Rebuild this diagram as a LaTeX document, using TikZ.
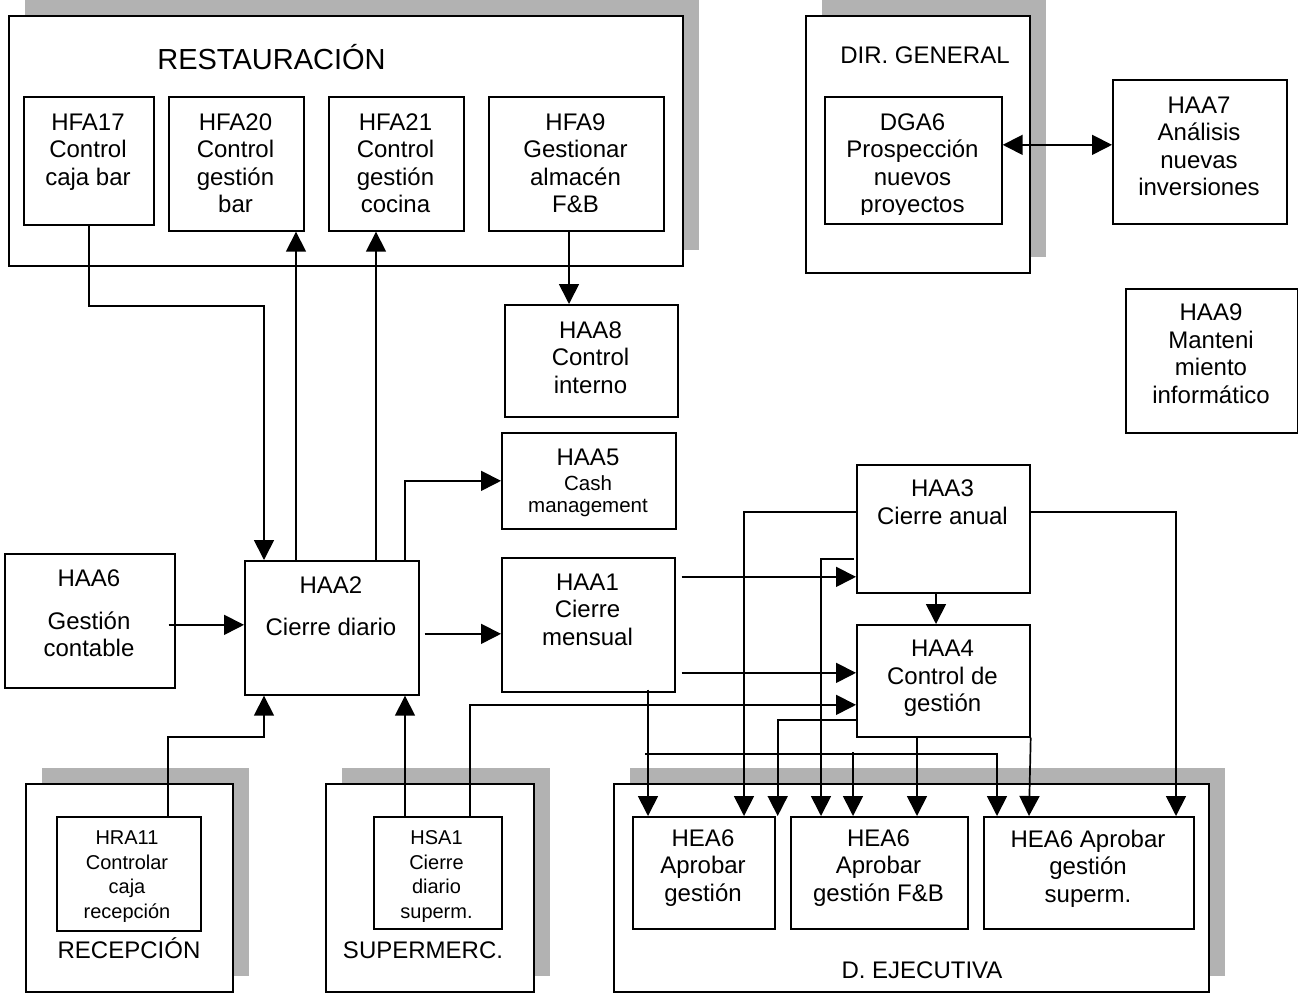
\documentclass[tikz,border=0pt]{standalone}
\usepackage{fontspec}
\setmainfont{Liberation Sans}
\usetikzlibrary{arrows.meta,calc,shadows}
\definecolor{shadowc}{RGB}{178,178,178}
\begin{document}
\begin{tikzpicture}[x=1pt,y=-1pt,
  box/.style={draw, line width=1.7pt, inner sep=0pt, anchor=north west, fill=white},
  group/.style={box, drop shadow={shadow xshift=16pt, shadow yshift=16pt, fill=shadowc, opacity=1}},
  txt/.style={inner sep=0pt, align=center, anchor=north, font=\fontsize{24}{27.5}\selectfont},
  smalltxt/.style={txt, font=\fontsize{20}{24.5}\selectfont},
  cashtxt/.style={txt, font=\fontsize{20.5}{22}\selectfont},
  grouptitle/.style={inner sep=0pt, anchor=base, font=\fontsize{24}{27.5}\selectfont},
  conn/.style={line width=1.7pt},
  arr/.style={conn, -{Triangle[length=20pt,width=20pt]}},
  dbl/.style={conn, {Triangle[length=20pt,width=20pt]}-{Triangle[length=20pt,width=20pt]}}
]
\useasboundingbox (0,0) rectangle (1298,996);
\fill[white] (0,0) rectangle (1298,996);

% ---- department frames with shadows ----
\node[group, minimum width=674pt, minimum height=250pt] (restG) at (8,15) {};
\node[group, minimum width=224pt, minimum height=257pt] (dirG) at (805,15) {};
\node[group, minimum width=207pt, minimum height=208pt] (recG) at (25,783) {};
\node[group, minimum width=208pt, minimum height=208pt] (supG) at (325,783) {};
\node[group, minimum width=595pt, minimum height=208pt] (ejeG) at (613,783) {};

\node[grouptitle, font=\fontsize{29}{32}\selectfont] (restT) at (271.5,69.5) {RESTAURACIÓN};
\node[grouptitle] (dirT) at (925,63.6) {DIR. GENERAL};
\node[grouptitle] (recT) at (129,958.6) {RECEPCIÓN};
\node[grouptitle] (supT) at (423,958.6) {SUPERMERC.};
\node[grouptitle] (ejeT) at (922,978) {D. EJECUTIVA};

% ---- process boxes ----
\node[box, minimum width=130pt, minimum height=128pt] (hfa17) at (23,96) {};
\node[box, minimum width=135pt, minimum height=134pt] (hfa20) at (168,96) {};
\node[box, minimum width=135pt, minimum height=134pt] (hfa21) at (328,96) {};
\node[box, minimum width=175pt, minimum height=134pt] (hfa9) at (488,96) {};
\node[box, minimum width=177pt, minimum height=127pt] (dga6) at (824,96) {};
\node[box, minimum width=174pt, minimum height=144pt] (haa7) at (1112,79) {};
\node[box, minimum width=172pt, minimum height=144pt] (haa9) at (1125,288) {};
\node[box, minimum width=173pt, minimum height=112pt] (haa8) at (504,304) {};
\node[box, minimum width=174pt, minimum height=96pt] (haa5) at (501,432) {};
\node[box, minimum width=170pt, minimum height=134pt] (haa6) at (4,553) {};
\node[box, minimum width=174pt, minimum height=134pt] (haa2) at (244,560) {};
\node[box, minimum width=173pt, minimum height=134pt] (haa1) at (501,557) {};
\node[box, minimum width=173pt, minimum height=128pt] (haa3) at (856,464) {};
\node[box, minimum width=173pt, minimum height=112pt] (haa4) at (856,624) {};
\node[box, minimum width=144pt, minimum height=114pt] (hra11) at (56,816) {};
\node[box, minimum width=128pt, minimum height=112pt] (hsa1) at (373,816) {};
\node[box, minimum width=142pt, minimum height=112pt] (hea6a) at (632,816) {};
\node[box, minimum width=177pt, minimum height=112pt] (hea6b) at (790,816) {};
\node[box, minimum width=210pt, minimum height=112pt] (hea6c) at (983,816) {};

% ---- box texts ----
\node[txt] (hfa17t) at (88,113.4) {HFA17\\Control\\caja bar};
\node[txt] (hfa20t) at (235.5,113.4) {HFA20\\Control\\gestión\\bar};
\node[txt] (hfa21t) at (395.5,113.4) {HFA21\\Control\\gestión\\cocina};
\node[txt] (hfa9t) at (575.5,113.4) {HFA9\\Gestionar\\almacén\\F\&B};
\begin{scope}
  \clip (dga6.north west) rectangle ($(dga6.south east)+(0,-10)$);
  \node[txt] (dga6t) at (912.5,113.4) {DGA6\\Prospección\\nuevos\\proyectos};
\end{scope}
\node[txt] (haa7t) at (1199,96.4) {HAA7\\Análisis\\nuevas\\inversiones};
\node[txt] (haa9t) at (1211,303.8) {HAA9\\Manteni\\miento\\informático};
\node[txt] (haa8t) at (590.5,321.4) {HAA8\\Control\\interno};
\node[txt] (haa5t) at (588,448.4) {HAA5};
\node[cashtxt] (haa5s) at (588,475.3) {Cash\\management};
\node[txt] (haa6t) at (89,569.4) {HAA6\\[15.5pt]Gestión\\contable};
\node[txt] (haa2t) at (331,576.4) {HAA2\\[14.5pt]Cierre diario};
\node[txt] (haa1t) at (587.5,573.4) {HAA1\\Cierre\\mensual};
\node[txt] (haa3t) at (942.5,480) {HAA3\\Cierre anual};
\node[txt] (haa4t) at (942.5,640) {HAA4\\Control de\\gestión};
\begin{scope}
  \clip (hra11.north west) rectangle ($(hra11.south east)+(0,-10)$);
  \node[smalltxt] (hra11t) at (127,830.8) {HRA11\\Controlar\\caja\\recepción};
\end{scope}
\begin{scope}
  \clip (hsa1.north west) rectangle ($(hsa1.south east)+(0,-8)$);
  \node[smalltxt] (hsa1t) at (436.5,830.8) {HSA1\\Cierre\\diario\\superm.};
\end{scope}
\node[txt] (hea6at) at (703,829.4) {HEA6\\Aprobar\\gestión};
\node[txt] (hea6bt) at (878.5,829.4) {HEA6\\Aprobar\\gestión F\&B};
\node[txt] (hea6ct) at (1088,829.4) {HEA6 Aprobar\\gestión\\superm.};

% ---- connectors ----
\draw[arr] (hfa17.south) -- ++(0,80) -| ($(haa2.north west)+(20,0)$);
\draw[arr] ($(haa2.north west)+(52,0)$) -- ($(hfa20.south west)+(128,0)$);
\draw[arr] ($(haa2.north west)+(132,0)$) -- ($(hfa21.south west)+(48,0)$);
\draw[arr] ($(haa2.north west)+(161,0)$) |- (haa5.west);
\draw[arr] ($(haa6.east)+(-7,4)$) -- ($(haa2.west)+(0,-3)$);
\draw[arr] ($(haa2.east)+(5,6)$) -- ($(haa1.west)+(0,9)$);
\draw[arr] ($(hfa9.south west)+(81,0)$) -- ($(haa8.north west)+(65,0)$);
\draw[arr] ($(hra11.north west)+(112,0)$) -- ++(0,-79) -| ($(haa2.south west)+(20,0)$);
\draw[arr] ($(hsa1.north west)+(32,0)$) -- ($(haa2.south west)+(161,0)$);
\draw[arr] ($(hsa1.north west)+(97,0)$) |- ($(haa4.west)+(0,24)$);
\draw[dbl] ($(dga6.east)+(0,-15.5)$) -- ($(haa7.west)+(0,-7)$);
\draw[arr] ($(haa1.east)+(6,-48)$) -- ($(haa3.west)+(0,48)$);
\draw[arr] ($(haa1.east)+(6,48)$) -- ($(haa4.west)+(0,-8)$);
\draw[arr] ($(haa3.south west)+(80,0)$) -- ($(haa4.north west)+(80,0)$);
\draw[arr] ($(haa3.north west)+(0,48)$) -| ($(hea6a.north west)+(112,0)$);
\draw[arr] ($(haa3.north west)+(-2,95)$) -| ($(hea6b.north west)+(31,0)$);
\draw[arr] ($(haa3.north east)+(0,48)$) -| ($(hea6c.north west)+(193,0)$);
\draw[arr] ($(haa4.north west)+(0,96)$) -| ($(hea6a.north east)+(2,0)$);
\draw[arr] ($(haa4.south west)+(61,0)$) -- ($(hea6b.north west)+(127,0)$);
\draw[arr] (haa4.south east) -- ($(hea6c.north west)+(46,0)$);
\draw[arr] ($(haa1.south west)+(147,-3)$) -- ($(hea6a.north west)+(16,0)$);
\draw[arr] ($(haa1.south west)+(144,61)$) -| ($(hea6c.north west)+(14,0)$);
\draw[arr] ($(hea6b.north west)+(63,-64)$) -- ($(hea6b.north west)+(63,0)$);
\end{tikzpicture}
\end{document}
